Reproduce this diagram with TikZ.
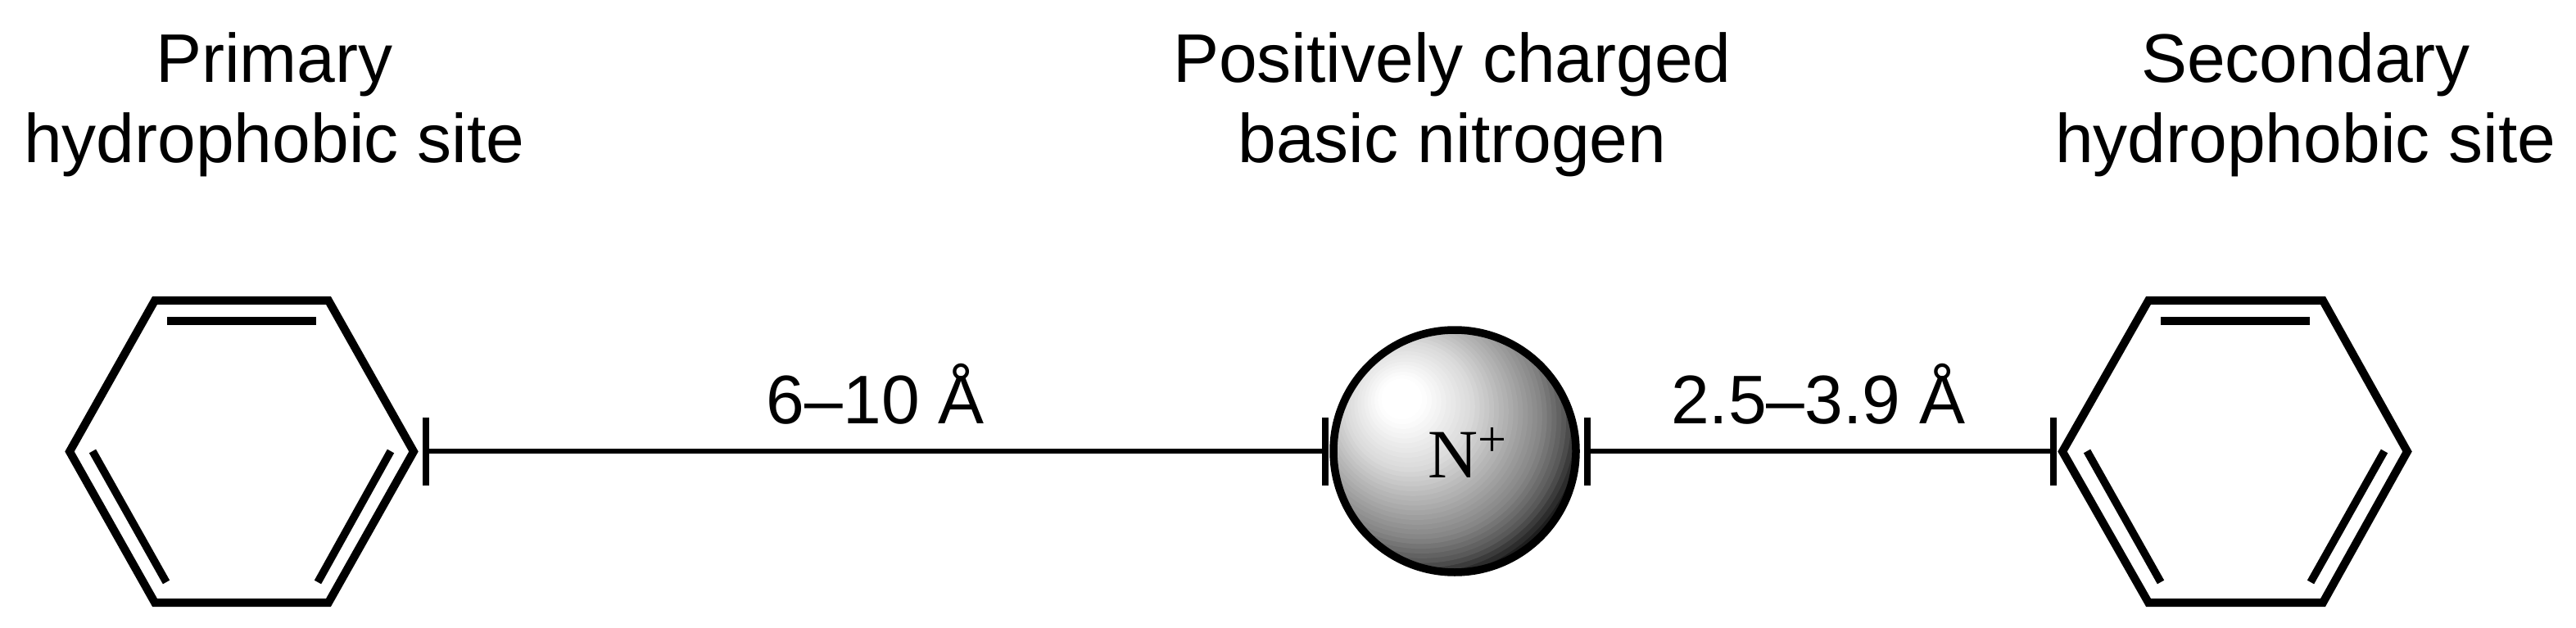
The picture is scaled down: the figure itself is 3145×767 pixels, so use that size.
\documentclass[tikz,border=0pt]{standalone}
\usepackage{fontspec}
\setmainfont{Liberation Sans}
\newfontfamily\serifN{Liberation Serif}
\tikzset{
 bond/.style={line width=10pt,line join=miter,miter limit=10},
 inner bond/.style={line width=9.5pt,line cap=butt},
 link/.style={line width=6.5pt},
 tick/.style={line width=7.5pt},
 lab/.style={font=\fontsize{84}{98}\selectfont,align=center,inner sep=0pt,text depth=0pt,anchor=south},
 dist/.style={font=\fontsize{84}{98}\selectfont,inner sep=0pt,anchor=base}
}
\begin{document}
\begin{tikzpicture}[x=1pt,y=-1pt]
\useasboundingbox (0,0) rectangle (3145,767);
% left ring
\coordinate (La) at (85,551.5);\coordinate (Lb) at (189,367);\coordinate (Lc) at (401,367);
\coordinate (Ld) at (505,551.5);\coordinate (Le) at (401,736);\coordinate (Lf) at (189,736);
\draw[bond] (La)--(Lb)--(Lc)--(Ld)--(Le)--(Lf)--cycle;
\coordinate (La1) at (204,392);\coordinate (La2) at (386,392);
\draw[inner bond] (La1)--(La2);
\coordinate (Lb1) at (113,551);\coordinate (Lb2) at (203,711);
\draw[inner bond] (Lb1)--(Lb2);
\coordinate (Lc1) at (477,551);\coordinate (Lc2) at (388,711);
\draw[inner bond] (Lc1)--(Lc2);
% right ring
\coordinate (Ra) at (2518,551.5);\coordinate (Rb) at (2623,367);\coordinate (Rc) at (2836,367);
\coordinate (Rd) at (2939,551.5);\coordinate (Re) at (2836,736);\coordinate (Rf) at (2623,736);
\draw[bond] (Ra)--(Rb)--(Rc)--(Rd)--(Re)--(Rf)--cycle;
\coordinate (Ra1) at (2638,392);\coordinate (Ra2) at (2820,392);
\draw[inner bond] (Ra1)--(Ra2);
\coordinate (Rb1) at (2548,551);\coordinate (Rb2) at (2638,711);
\draw[inner bond] (Rb1)--(Rb2);
\coordinate (Rc1) at (2911,551);\coordinate (Rc2) at (2821,711);
\draw[inner bond] (Rc1)--(Rc2);
% ball: banded shading, outermost band first
\begin{scope}
\clip (1776,551) circle[radius=148];
\fill[black!92] (1776,551) circle[radius=150];
\foreach \n in {40,39,...,1}{
  \pgfmathsetmacro{\tt}{\n*0.0125}
  \pgfmathsetmacro{\pp}{\tt<0.07 ? 0 : (\tt<0.2 ? (\tt-0.07)*115 : (\tt<0.30 ? 15+(\tt-0.2)*180 : (\tt<0.38 ? 33+(\tt-0.30)*187 : (\tt<0.44 ? 48+(\tt-0.38)*300 : 66+(\tt-0.44)*480))))}
  \fill[black!\pp] ({1707+\tt*69},{483+\tt*68}) circle[radius={\tt*400}];
}
\end{scope}
\node[circle,draw=black,line width=9.5pt,minimum size=296pt,inner sep=0pt] (ball) at (1776,551) {};
\node[inner sep=0pt,anchor=base west,font=\serifN\fontsize{84.5}{84.5}\selectfont] (nlab) at (1743,583) {N\raisebox{26pt}{\fontsize{62}{62}\selectfont +}};
% ticks and links
\coordinate (t1) at (520,551);\coordinate (t2) at (1618,551);\coordinate (t3) at (1938,551);\coordinate (t4) at (2507,551);
\draw[link] (t1)--(t2);
\draw[link] (t3)--(t4);
\foreach \t in {t1,t2,t3,t4}{\draw[tick] ([yshift=-41.5pt]\t)--([yshift=41.5pt]\t);}
% labels
\node[lab] (p) at (335,199) {Primary\\hydrophobic site};
\node[lab] (c) at (1773,199) {Positively charged\\basic nitrogen};
\node[lab] (s) at (2815,199) {Secondary\\hydrophobic site};
\node[dist] (d1) at (1069,517) {6–10 Å};
\node[dist] (d2) at (2220,517) {2.5–3.9 Å};
\end{tikzpicture}
\end{document}
